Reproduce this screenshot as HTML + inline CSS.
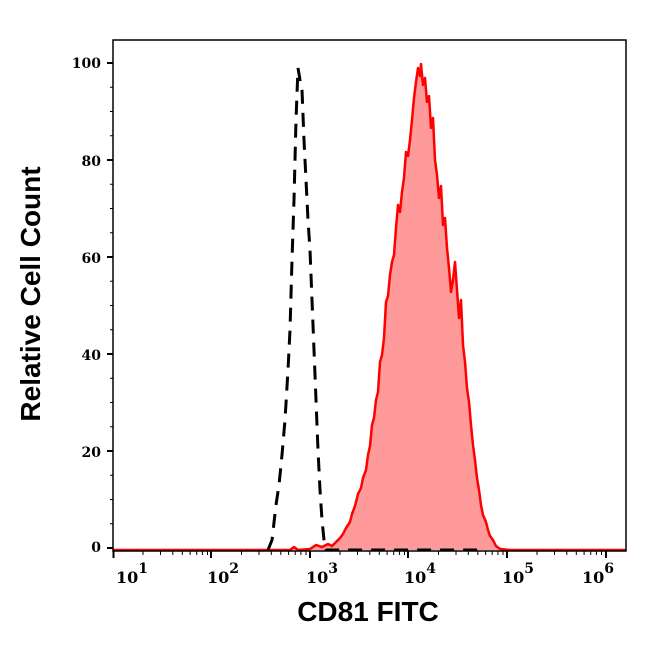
<!DOCTYPE html>
<html><head><meta charset="utf-8"><style>body{margin:0;background:#fff}</style></head><body>
<svg width="646" height="641" xmlns="http://www.w3.org/2000/svg" font-family="DejaVu Serif, Liberation Serif, serif">
<rect width="646" height="641" fill="#fff"/>
<path d="M113,550 L290,550 L294,547 L298,550 L310,549 L316,545 L322,547 L328,544 L332,546 L336,542 L340,538 L343,534 L346,528 L350,522 L352,514 L355,506 L358,494 L361,488 L363,478 L366,470 L368,455 L370,446 L372,425 L374,418 L376,400 L378,392 L380,362 L382,355 L384,338 L386,302 L388,296 L390,275 L392,262 L394,255 L396,228 L398,205 L400,212 L402,192 L404,178 L406,152 L408,156 L410,140 L412,120 L414,98 L416,82 L418,68 L420,76 L421,64 L423,85 L425,78 L427,102 L429,96 L431,128 L433,118 L435,160 L437,175 L439,198 L441,186 L443,225 L445,218 L447,248 L449,268 L451,292 L453,280 L455,262 L457,290 L459,318 L461,300 L463,345 L465,362 L467,388 L469,402 L471,425 L473,445 L475,460 L477,478 L479,490 L481,505 L483,515 L486,522 L488,530 L490,536 L493,540 L496,546 L500,549 L510,550 L626,550" fill="#ff9a9a" stroke="#f00" stroke-width="2.5" stroke-linejoin="round"/>
<path d="M268,550 L272,540 L276,505 L279,485 L282,455 L285,420 L288,370 L290,330 L292,260 L294,200 L296,120 L298,68 L300,80 L302,90 L304,140 L306,180 L308,220 L310,250 L312,300 L314,350 L316,400 L318,450 L320,490 L322,520 L324,540 L326,550 L360,550 L480,550" fill="none" stroke="#000" stroke-width="3" stroke-dasharray="14,9"/>
<rect x="113" y="40" width="513" height="511" fill="none" stroke="#000" stroke-width="1.5"/>
<g stroke="#000" stroke-width="2">
<line x1="107" y1="63" x2="113" y2="63"/><line x1="107" y1="160" x2="113" y2="160"/><line x1="107" y1="257" x2="113" y2="257"/><line x1="107" y1="354" x2="113" y2="354"/><line x1="107" y1="451" x2="113" y2="451"/><line x1="107" y1="548" x2="113" y2="548"/>
</g>
<g stroke="#000" stroke-width="1">
<path d="M110,87.3H113M110,111.5H113M110,135.8H113M110,184.3H113M110,208.5H113M110,232.8H113M110,281.3H113M110,305.5H113M110,329.8H113M110,378.3H113M110,402.5H113M110,426.8H113M110,475.3H113M110,499.5H113M110,523.8H113"/>
<path d="M143,551v4M160.5,551v4M172.8,551v4M182.3,551v4M190.1,551v4M196.7,551v4M202.4,551v4M207.5,551v4
M241.5,551v4M259,551v4M271.3,551v4M280.8,551v4M288.6,551v4M295.2,551v4M300.9,551v4M306,551v4
M340,551v4M357.5,551v4M369.8,551v4M379.3,551v4M387.1,551v4M393.7,551v4M399.4,551v4M404.5,551v4
M438.5,551v4M456,551v4M468.3,551v4M477.8,551v4M485.6,551v4M492.2,551v4M497.9,551v4M503,551v4
M537,551v4M554.5,551v4M566.8,551v4M576.3,551v4M584.1,551v4M590.7,551v4M596.4,551v4M601.5,551v4"/>
</g>
<g stroke="#000" stroke-width="2">
<line x1="113.5" y1="551" x2="113.5" y2="558"/><line x1="211" y1="551" x2="211" y2="558"/><line x1="310" y1="551" x2="310" y2="558"/><line x1="408" y1="551" x2="408" y2="558"/><line x1="507" y1="551" x2="507" y2="558"/><line x1="606" y1="551" x2="606" y2="558"/>
</g>
<g font-size="14" font-weight="bold" text-anchor="end">
<text x="101" y="68">100</text><text x="101" y="166">80</text><text x="101" y="263">60</text><text x="101" y="360">40</text><text x="101" y="457">20</text><text x="101" y="552">0</text>
</g>
<g font-size="16" font-weight="bold">
<text x="116" y="583">10<tspan font-size="14" dy="-10">1</tspan></text>
<text x="207" y="583">10<tspan font-size="14" dy="-10">2</tspan></text>
<text x="306" y="583">10<tspan font-size="14" dy="-10">3</tspan></text>
<text x="404" y="583">10<tspan font-size="14" dy="-10">4</tspan></text>
<text x="502" y="583">10<tspan font-size="14" dy="-10">5</tspan></text>
<text x="582" y="583">10<tspan font-size="14" dy="-10">6</tspan></text>
</g>
<text x="368" y="621" font-family="Liberation Sans, sans-serif" font-weight="bold" font-size="28" text-anchor="middle">CD81 FITC</text>
<text transform="translate(40,294) rotate(-90)" font-family="Liberation Sans, sans-serif" font-weight="bold" font-size="28" text-anchor="middle">Relative Cell Count</text>
</svg>
</body></html>
